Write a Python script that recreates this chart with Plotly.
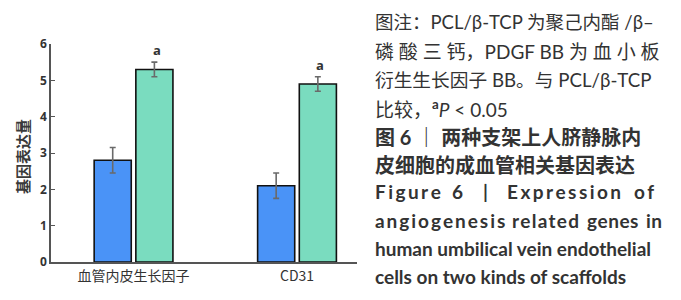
import plotly.graph_objects as go

categories = ["血管内皮生长因子", "CD31"]
pcl_values = [2.8, 2.1]
pcl_errors = [0.35, 0.35]
pdgf_values = [5.3, 4.9]
pdgf_errors = [0.2, 0.2]
sig_labels = ["a", "a"]
y_ticks = [0, 1, 2, 3, 4, 5, 6]

# caption: (text, bold, font size, screen y)
caption_lines = [
    ("图注：PCL/β-TCP 为聚己内酯 /β–", False, 18.5, 22),
    ("磷 酸 三 钙，PDGF BB 为 血 小 板", False, 19, 51),
    ("衍生生长因子 BB。与 PCL/β-TCP", False, 18.7, 80),
    ("比较，<sup><b>a</b></sup><i>P</i> < 0.05", False, 19, 108),
    ("图 6 ｜ 两种支架上人脐静脉内", True, 20, 137),
    ("皮细胞的成血管相关基因表达", True, 20, 165),
    ("human umbilical vein endothelial", True, 19, 248),
    ("cells on two kinds of scaffolds", True, 19, 276),
]
# letter-spaced (justified) caption lines: words, word start x, letter-gap spacer sizes, screen y
spaced_words_1 = ["Figure", "6", "|", "Expression", "of"]
spaced_x_1 = [375, 452, 483, 507, 634]
spaced_gap_1 = [10, 10, 10, 10, 10]
spaced_words_2 = ["angiogenesis", "related", "genes", "in"]
spaced_x_2 = [375, 512, 587, 646]
spaced_gap_2 = [8, 5, 2, 2]
spaced_lines = [
    (spaced_words_1, spaced_x_1, spaced_gap_1, 192),
    (spaced_words_2, spaced_x_2, spaced_gap_2, 220),
]

CJK = "Noto Sans CJK SC"
TXT = "#333333"

fig = go.Figure()
fig.add_trace(go.Bar(
    x=categories, y=pcl_values, name="PCL/β-TCP",
    marker=dict(color="#4a93f7", line=dict(color="#111111", width=1.6)),
    error_y=dict(type="data", array=pcl_errors, color="#6a6a6a", thickness=1.6, width=3),
))
fig.add_trace(go.Bar(
    x=categories, y=pdgf_values, name="PDGF BB",
    marker=dict(color="#7adcbf", line=dict(color="#111111", width=1.6)),
    error_y=dict(type="data", array=pdgf_errors, color="#6a6a6a", thickness=1.6, width=3),
))

annotations = []
for i, c in enumerate(categories):
    annotations.append(dict(
        x=c, y=pdgf_values[i] + pdgf_errors[i], xref="x", yref="y",
        text="<b>" + sig_labels[i] + "</b>", showarrow=False,
        xshift=23, yanchor="bottom", yshift=1,
        font=dict(family="Open Sans", size=13, color=TXT),
    ))

# screen geometry of the plot area (page has an 8px body offset)
x0_px, plot_w = 51, 306
y0_px, plot_h = 262, 218


def px_x(px):
    return (px - x0_px) / plot_w


def px_y(py):
    return (y0_px - py) / plot_h


for txt, bold, fs, py in caption_lines:
    t = "<b>" + txt + "</b>" if bold else txt
    annotations.append(dict(
        x=px_x(373), y=px_y(py),
        xref="paper", yref="paper", xanchor="left", yanchor="middle",
        text=t, showarrow=False, align="left",
        font=dict(family="Lato, " + CJK, size=fs, color=TXT),
    ))

for words, xs, gaps, py in spaced_lines:
    for w, wx, g in zip(words, xs, gaps):
        spacer = '<span style="font-size:%dpx">\u00a0</span>' % g
        annotations.append(dict(
            x=px_x(wx - 2), y=px_y(py),
            xref="paper", yref="paper", xanchor="left", yanchor="middle",
            text="<b>" + spacer.join(w) + "</b>", showarrow=False, align="left",
            font=dict(family="Lato", size=19, color=TXT),
        ))

annotations.append(dict(
    x=px_x(22), y=px_y(157), xref="paper", yref="paper",
    xanchor="center", yanchor="middle",
    text="<b>基因表达量</b>", textangle=-90, showarrow=False,
    font=dict(family=CJK, size=15, color="#3a3a3a"),
))

fig.update_layout(
    width=681, height=300,
    margin=dict(l=43, r=332, t=36, b=46),
    paper_bgcolor="white", plot_bgcolor="white",
    barmode="group", bargap=0.49, bargroupgap=0.11,
    showlegend=False,
    annotations=annotations,
    xaxis=dict(
        type="category", range=[-0.505, 1.367],
        showline=True, linecolor="#555555", linewidth=1.5,
        ticks="", tickfont=dict(family=CJK, size=14, color="#333333"),
        showgrid=False, zeroline=False,
    ),
    yaxis=dict(
        range=[0, 6], tickvals=y_ticks,
        showline=True, linecolor="#555555", linewidth=1.5,
        ticks="inside", ticklen=4, tickcolor="#555555",
        tickfont=dict(family="Open Sans", size=12, color="#333333", weight="bold"),
        showgrid=False, zeroline=False,
    ),
)

fig.write_html("out.html")
